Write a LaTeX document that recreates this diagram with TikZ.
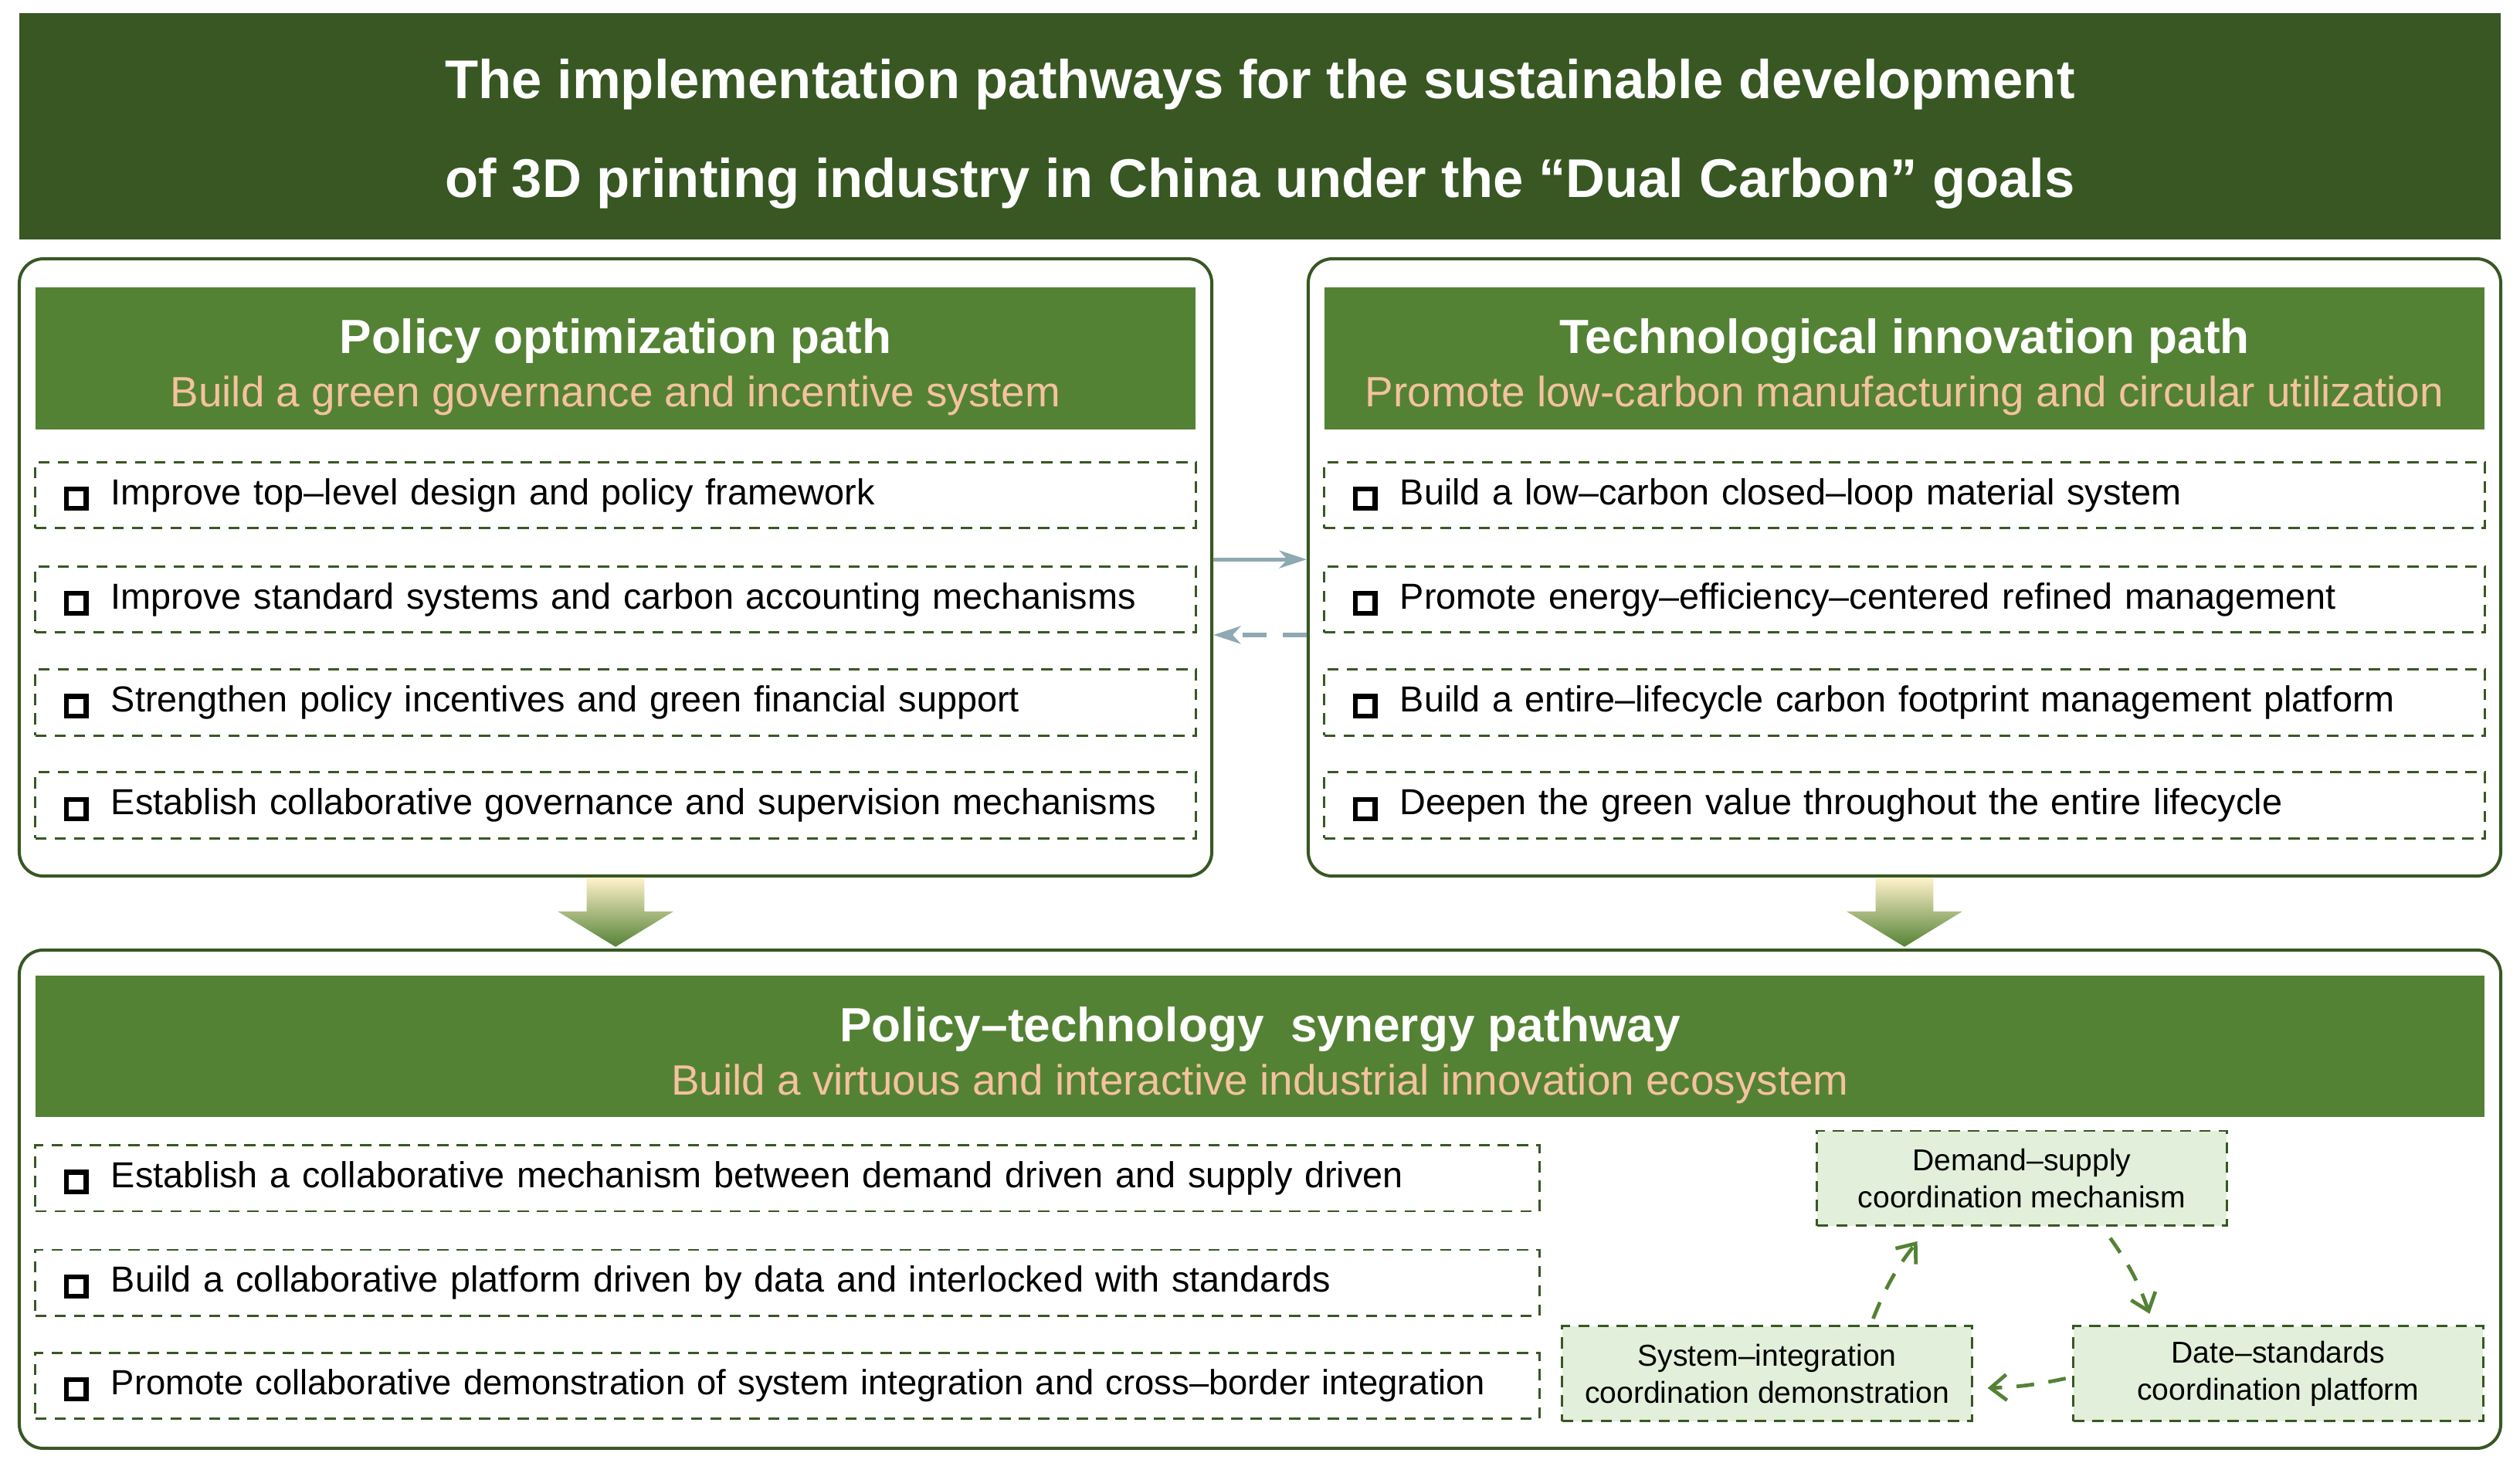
\documentclass[tikz,border=0pt]{standalone}
\usepackage{fontspec}
\setmainfont{Liberation Sans}
\usepackage{tikz}
\usetikzlibrary{positioning,arrows.meta,calc}
\definecolor{darkgrn}{HTML}{385723}
\definecolor{headgrn}{HTML}{548235}
\definecolor{subpeach}{HTML}{F4C29E}
\definecolor{palegrn}{HTML}{E2EFDA}
\definecolor{linkblue}{HTML}{8EA9B1}
\definecolor{arrowtop}{HTML}{FFF2CC}
\newcommand{\upx}{0.2mm}
\newcommand{\sqbox}{{\setlength{\fboxrule}{1.7pt}\setlength{\fboxsep}{0pt}\raisebox{-0.6pt}{\fbox{\rule{0pt}{5.2pt}\hspace{5.2pt}}}}\hspace{8pt}}
\newcommand{\hdtitle}[1]{{\fontsize{17}{18.8}\selectfont\bfseries\rule{0pt}{18.5pt}#1}}
\newcommand{\hdsub}[1]{{\fontsize{15}{18.8}\selectfont\color{subpeach}#1}}

\begin{document}
\begin{tikzpicture}[x=0.2mm,y=-0.2mm,
	titlebox/.style={fill=darkgrn,text=white,align=center,font=\fontsize{19.3}{35}\selectfont\bfseries,
		minimum width=1544*\upx,minimum height=141*\upx},
	panel/.style={draw=darkgrn,line width=1.1pt,rounded corners=3mm,minimum width=#1*\upx,minimum height=384*\upx},
	headbox/.style={fill=headgrn,text=white,align=center,font=\fontsize{15}{18.8}\selectfont,
		minimum width=#1*\upx,minimum height=88*\upx},
	itembox/.style={draw=darkgrn,line width=0.8pt,dash pattern=on 1.4mm off 1mm,inner xsep=18*\upx,
		text width=#1*\upx,minimum height=41*\upx,align=left,font=\fontsize{12.8}{15}\selectfont},
	minibox/.style={draw=darkgrn,fill=palegrn,line width=0.8pt,dash pattern=on 1.4mm off 1mm,align=center,
		minimum width=255*\upx,minimum height=59*\upx,font=\fontsize{10.7}{13.1}\selectfont},
	linkarrow/.style={draw=linkblue,line width=1.4pt,-{Stealth[length=3.4mm,width=2.2mm,inset=1mm]}},
	cyclearrow/.style={draw=headgrn,line width=1.3pt,dash pattern=on 2.2mm off 1.8mm,
		-{Straight Barb[length=2mm,width=3.2mm,line width=1.3pt]}},
	bigarrow/.style={top color=arrowtop,bottom color=headgrn}]
	\useasboundingbox (0,0) rectangle (1568,914);
	% title
	\node[titlebox] (title) at (784,78.5) {\rule{0pt}{19.5pt}The implementation pathways for the sustainable development\\of 3D printing industry in China under the “Dual Carbon” goals};
	% policy path
	\node[panel=742] (lpan) at (383,353) {};
	\node[headbox=722] (lhead) at (383,223) {\hdtitle{Policy\ optimization\ path}\\\hdsub{Build a green governance and incentive system}};
	\node[itembox=686] (p1) at (383,308) {\sqbox Improve top–level design and policy framework};
	\node[itembox=686] (p2) at (383,373) {\sqbox Improve standard systems and carbon accounting mechanisms};
	\node[itembox=686] (p3) at (383,437) {\sqbox Strengthen policy incentives and green financial support};
	\node[itembox=686] (p4) at (383,501) {\sqbox Establish collaborative governance and supervision mechanisms};
	% technology path
	\node[panel=742] (rpan) at (1185,353) {};
	\node[headbox=722] (rhead) at (1185,223) {\hdtitle{Technological\ innovation\ path}\\\hdsub{Promote low-carbon manufacturing and circular utilization}};
	\node[itembox=686] (t1) at (1185,308) {\sqbox Build a low–carbon closed–loop material system};
	\node[itembox=686] (t2) at (1185,373) {\sqbox Promote energy–efficiency–centered refined management};
	\node[itembox=686] (t3) at (1185,437) {\sqbox Build a entire–lifecycle carbon footprint management platform};
	\node[itembox=686] (t4) at (1185,501) {\sqbox Deepen the green value throughout the entire lifecycle};
	\draw[linkarrow] ($(lpan.east)+(0,-5)$) -- ($(rpan.west)+(0,-5)$);
	\draw[linkarrow,dash pattern=on 3mm off 2mm] ($(rpan.west)+(0,42)$) -- ($(lpan.east)+(0,42)$);
	% block arrows
	\shade[bigarrow] (365,546) -- (401,546) -- (401,567) -- (419,567) -- (383,589) -- (347,567) -- (365,567) -- cycle;
	\shade[bigarrow] (1167,546) -- (1203,546) -- (1203,567) -- (1221,567) -- (1185,589) -- (1149,567) -- (1167,567) -- cycle;
	% synergy path
	\node[panel=1544,minimum height=310*\upx] (bpan) at (784,746) {};
	\node[headbox=1524] (bhead) at (784,651) {\hdtitle{Policy–technology\ \ synergy\ pathway}\\\hdsub{Build a virtuous and interactive industrial innovation ecosystem}};
	\node[itembox=900] (s1) at (490,733) {\sqbox Establish a collaborative mechanism between demand driven and supply driven};
	\node[itembox=900] (s2) at (490,798) {\sqbox Build a collaborative platform driven by data and interlocked with standards};
	\node[itembox=900,font=\fontsize{12.4}{15}\selectfont] (s3) at (490,862) {\sqbox Promote collaborative demonstration of system integration and cross–border integration};
	\node[minibox] (dem) at (1258,733) {Demand–supply\\coordination mechanism};
	\node[minibox] (sys) at (1099.5,854.5) {System–integration\\coordination demonstration};
	\node[minibox] (dat) at (1417.5,854.5) {Date–standards\\coordination platform};
	\draw[cyclearrow] ($(sys.north)+(66,-4)$) to[bend left=8] ($(dem.south)+(-65,9)$);
	\draw[cyclearrow] ($(dem.south)+(55,7)$) to[bend left=8] ($(dat.north)+(-80,-7)$);
	\draw[cyclearrow] ($(dat.west)+(-4,3)$) to[bend left=5] ($(sys.east)+(9,9)$);
\end{tikzpicture}
\end{document}
